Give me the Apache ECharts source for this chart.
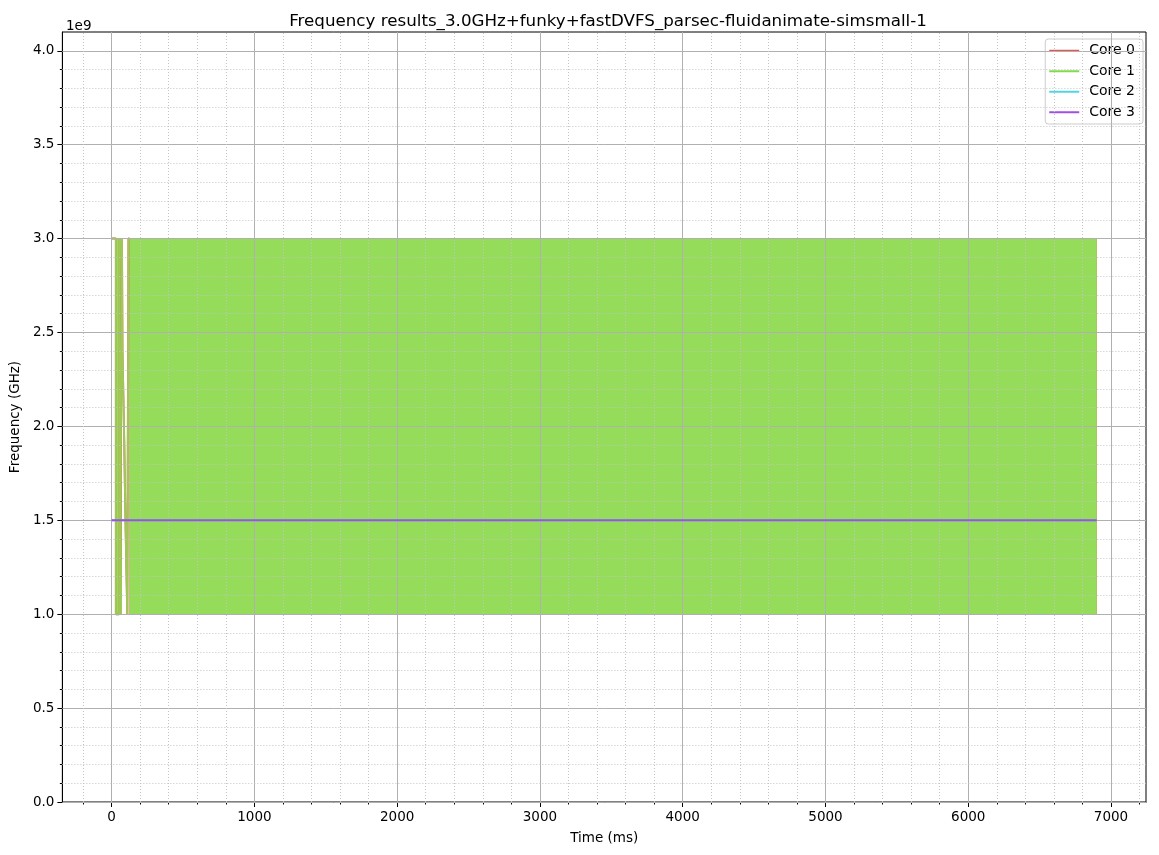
<!DOCTYPE html>
<html>
<head>
<meta charset="utf-8">
<script src="https://cdn.jsdelivr.net/npm/echarts@6/dist/echarts.min.js"></script>
<style>
  html, body { margin: 0; padding: 0; background: #fff; }
  #main { width: 1159px; height: 855px; }
</style>
</head>
<body>
<div id="main"></div>
<script>
// 数据 (时间 ms, 频率 Hz)
var coreNames = ['Core 0', 'Core 1', 'Core 2', 'Core 3'];
var coreColors = ['#e0584f', '#86d94e', '#4fd6e0', '#a051e0'];

// 开头的几段阶梯 (core 0 / core 1 相同)
var busyTimes = [0, 30, 30, 52, 52, 58, 58, 72, 72, 76, 76, 88, 88, 96, 96, 104, 104, 110, 110, 118, 118, 125];
var busyFreqs = [3.0e9, 3.0e9, 1.0e9, 1.0e9, 3.0e9, 3.0e9, 1.0e9, 1.0e9, 3.0e9, 3.0e9, 2.4e9, 2.4e9, 1.93e9, 1.93e9,
  1.545e9, 1.545e9, 1.225e9, 1.225e9, 1.0e9, 1.0e9, 3.0e9, 3.0e9];

// 1.0 ~ 3.0 GHz 之间快速切换的区域 (太密, 画成色块)
var bandStart = [30, 58, 125];
var bandEnd = [52, 72, 6900];
var bandLow = 1.0e9;
var bandHigh = 3.0e9;

// core 2 / core 3 一直是 1.5GHz
var idleTimes = [0, 6900];
var idleFreqs = [1.5e9, 1.5e9];

var xTicks = [0, 1000, 2000, 3000, 4000, 5000, 6000, 7000];
var yTicks = [0, 0.5e9, 1.0e9, 1.5e9, 2.0e9, 2.5e9, 3.0e9, 3.5e9, 4.0e9];

var xMin = -345, xMax = 7245;
var yMin = 0, yMax = 4.1e9;

var xMinor = [];
for (var i = -200; i <= 7200; i += 200) {
  if (i % 1000 !== 0) xMinor.push(i);
}
var yMinor = [];
for (var j = 1; j < 41; j++) {
  if (j % 5 !== 0) yMinor.push(j * 0.1e9);
}

function pairs(xs, ys) {
  return xs.map(function (x, k) { return [x, ys[k]]; });
}

var font = 'DejaVu Sans';

var gridLines = [];
xTicks.forEach(function (v) { gridLines.push({ xAxis: v, lineStyle: { color: '#b0b0b0', type: 'solid', width: 1 } }); });
yTicks.forEach(function (v) { gridLines.push({ yAxis: v, lineStyle: { color: '#b0b0b0', type: 'solid', width: 1 } }); });
xMinor.forEach(function (v) { gridLines.push({ xAxis: v, lineStyle: { color: '#c4c4c4', type: [1, 2], width: 1 } }); });
yMinor.forEach(function (v) { gridLines.push({ yAxis: v, lineStyle: { color: '#c4c4c4', type: [1, 2], width: 1 } }); });

var bandAreas = bandStart.map(function (s, k) {
  return [{ coord: [s, bandLow] }, { coord: [bandEnd[k], bandHigh] }];
});

function lineSeries(idx, data, extra) {
  var s = {
    name: coreNames[idx],
    type: 'line',
    data: data,
    showSymbol: false,
    symbol: 'none',
    animation: false,
    z: 3 + idx,
    lineStyle: { color: coreColors[idx], width: 2 },
    itemStyle: { color: coreColors[idx] }
  };
  for (var key in extra) s[key] = extra[key];
  return s;
}

var chart = echarts.init(document.getElementById('main'));
chart.setOption({
  backgroundColor: '#fff',
  animation: false,
  title: [{
    text: 'Frequency results_3.0GHz+funky+fastDVFS_parsec-fluidanimate-simsmall-1',
    left: 603,
    top: 8,
    textAlign: 'center',
    textStyle: { fontFamily: font, fontSize: 16.7, fontWeight: 'normal', color: '#000' }
  }, {
    text: '1e9',
    left: 61,
    top: 14,
    textStyle: { fontFamily: font, fontSize: 13.5, fontWeight: 'normal', color: '#000' }
  }],
  legend: {
    data: coreNames,
    orient: 'vertical',
    right: 16,
    top: 39,
    padding: [4, 8, 4, 4],
    itemWidth: 30,
    itemHeight: 2,
    itemGap: 5,
    icon: 'rect',
    borderColor: '#cccccc',
    borderWidth: 1,
    borderRadius: 3,
    backgroundColor: 'rgba(255,255,255,0.8)',
    textStyle: { fontFamily: font, fontSize: 14, color: '#000', lineHeight: 15.5, padding: [0, 0, 0, 5] }
  },
  grid: {
    left: 61, right: 13, top: 32, bottom: 53,
    show: true,
    borderColor: '#000',
    borderWidth: 1,
    backgroundColor: 'transparent'
  },
  xAxis: [{
    type: 'value',
    min: xMin, max: xMax,
    name: 'Time (ms)',
    nameLocation: 'middle',
    nameGap: 29,
    nameTextStyle: { fontFamily: font, fontSize: 13.5, color: '#000' },
    axisLine: { show: true, onZero: false, lineStyle: { color: '#000', width: 1 } },
    axisTick: { show: true, length: 5, customValues: xTicks, lineStyle: { color: '#000' } },
    axisLabel: {
      show: true, customValues: xTicks, fontFamily: font, fontSize: 13.5, color: '#000', margin: 8,
      formatter: function (v) { return String(v); }
    },
    splitLine: { show: false }
  }, {
    type: 'value',
    min: xMin, max: xMax,
    position: 'bottom',
    axisLine: { show: false, onZero: false },
    axisTick: { show: true, length: 2.5, customValues: xMinor, lineStyle: { color: '#000' } },
    axisLabel: { show: false },
    splitLine: { show: false }
  }],
  yAxis: [{
    type: 'value',
    min: yMin, max: yMax,
    name: 'Frequency (GHz)',
    nameLocation: 'middle',
    nameGap: 38,
    nameTextStyle: { fontFamily: font, fontSize: 13.5, color: '#000' },
    axisLine: { show: true, onZero: false, lineStyle: { color: '#000', width: 1 } },
    axisTick: { show: true, length: 5, customValues: yTicks, lineStyle: { color: '#000' } },
    axisLabel: {
      show: true, customValues: yTicks, fontFamily: font, fontSize: 13.5, color: '#000', margin: 8,
      formatter: function (v) { return (v / 1e9).toFixed(1); }
    },
    splitLine: { show: false }
  }, {
    type: 'value',
    min: yMin, max: yMax,
    position: 'left',
    axisLine: { show: false, onZero: false },
    axisTick: { show: true, length: 2.5, customValues: yMinor, lineStyle: { color: '#000' } },
    axisLabel: { show: false },
    splitLine: { show: false }
  }],
  series: [{
    name: 'grid',
    type: 'line',
    data: [],
    z: 1,
    silent: true,
    animation: false,
    markLine: { silent: true, symbol: 'none', label: { show: false }, animation: false, data: gridLines }
  },
    lineSeries(0, pairs(busyTimes, busyFreqs), {
      lineStyle: { color: coreColors[0], width: 2 },
      markArea: { silent: true, itemStyle: { color: coreColors[0] }, data: bandAreas }
    }),
    lineSeries(1, pairs(busyTimes, busyFreqs), {
      lineStyle: { color: '#93dc58', width: 2, opacity: 0.85 },
      markArea: { silent: true, itemStyle: { color: '#95dc5a' }, data: bandAreas }
    }),
    lineSeries(2, pairs(idleTimes, idleFreqs), {}),
    lineSeries(3, pairs(idleTimes, idleFreqs), {})
  ]
});
</script>
</body>
</html>
